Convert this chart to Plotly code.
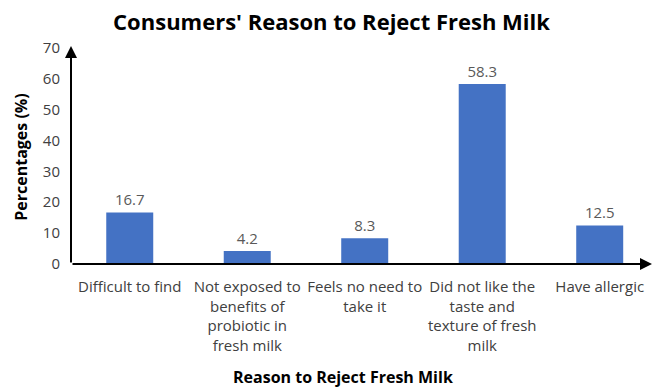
import plotly.graph_objects as go

# Survey results: why consumers reject fresh milk
categories = [
    "Difficult to find",
    "Not exposed to<br>benefits of<br>probiotic in<br>fresh milk",
    "Feels no need to<br>take it",
    "Did not like the<br>taste and<br>texture of fresh<br>milk",
    "Have allergic",
]
percentages = [16.7, 4.2, 8.3, 58.3, 12.5]
y_ticks = [0, 10, 20, 30, 40, 50, 60, 70]

FONT = "Open Sans"
BAR_COLOR = "#4472C4"

x_idx = list(range(len(categories)))
x_max = 4.445
y_max = 70.6

fig = go.Figure(
    go.Bar(
        x=x_idx,
        y=percentages,
        width=0.4,
        marker=dict(color=BAR_COLOR, line=dict(width=0)),
        text=[f"{v:.1f}" for v in percentages],
        textposition="outside",
        textfont=dict(family=FONT, size=15, color="#595959"),
        cliponaxis=False,
    )
)

fig.update_layout(
    width=653,
    height=387,
    margin=dict(l=71, r=1, t=46, b=123),
    paper_bgcolor="white",
    plot_bgcolor="white",
    showlegend=False,
    title=dict(
        text="<b>Consumers' Reason to Reject Fresh Milk</b>",
        font=dict(family=FONT, size=22, color="#000000"),
        x=331.5 / 653,
        xanchor="center",
        y=1 - 22 / 387,
        yanchor="middle",
    ),
    bargap=0.6,
)

fig.update_xaxes(
    range=[-0.5, x_max],
    tickmode="array",
    tickvals=x_idx,
    ticktext=categories,
    tickangle=0,
    tickfont=dict(family=FONT, size=15, color="#404040"),
    showgrid=False,
    zeroline=False,
    showline=False,
    ticks="",
    ticklabelstandoff=12,
)

fig.update_yaxes(
    range=[0, y_max],
    tickmode="array",
    tickvals=y_ticks,
    tickfont=dict(family=FONT, size=15, color="#404040"),
    showgrid=False,
    zeroline=False,
    showline=False,
    ticks="",
    ticklabelstandoff=10,
)

# Axis lines drawn as arrows
fig.add_annotation(
    x=-0.5, y=y_max, ax=-0.5, ay=0, xref="x", yref="y", axref="x", ayref="y",
    text="", showarrow=True, arrowhead=2, arrowsize=1.2, arrowwidth=2, arrowcolor="black",
)
fig.add_annotation(
    x=x_max, y=0, ax=-0.5, ay=0, xref="x", yref="y", axref="x", ayref="y",
    text="", showarrow=True, arrowhead=2, arrowsize=1.2, arrowwidth=2, arrowcolor="black",
)

# Axis titles
fig.add_annotation(
    text="<b>Reason to Reject Fresh Milk</b>",
    xref="paper", yref="paper",
    x=(342.5 - 71) / 581, y=0, yshift=-113,
    xanchor="center", yanchor="middle", showarrow=False,
    font=dict(family=FONT, size=16, color="#000000"),
)
fig.add_annotation(
    text="<b>Percentages (%)</b>",
    xref="paper", yref="paper",
    x=0, xshift=-(71 - 21.5), y=(264.5 - 157.5) / (264.5 - 46),
    xanchor="center", yanchor="middle", textangle=-90, showarrow=False,
    font=dict(family=FONT, size=16, color="#000000"),
)

fig.write_html("out.html")
